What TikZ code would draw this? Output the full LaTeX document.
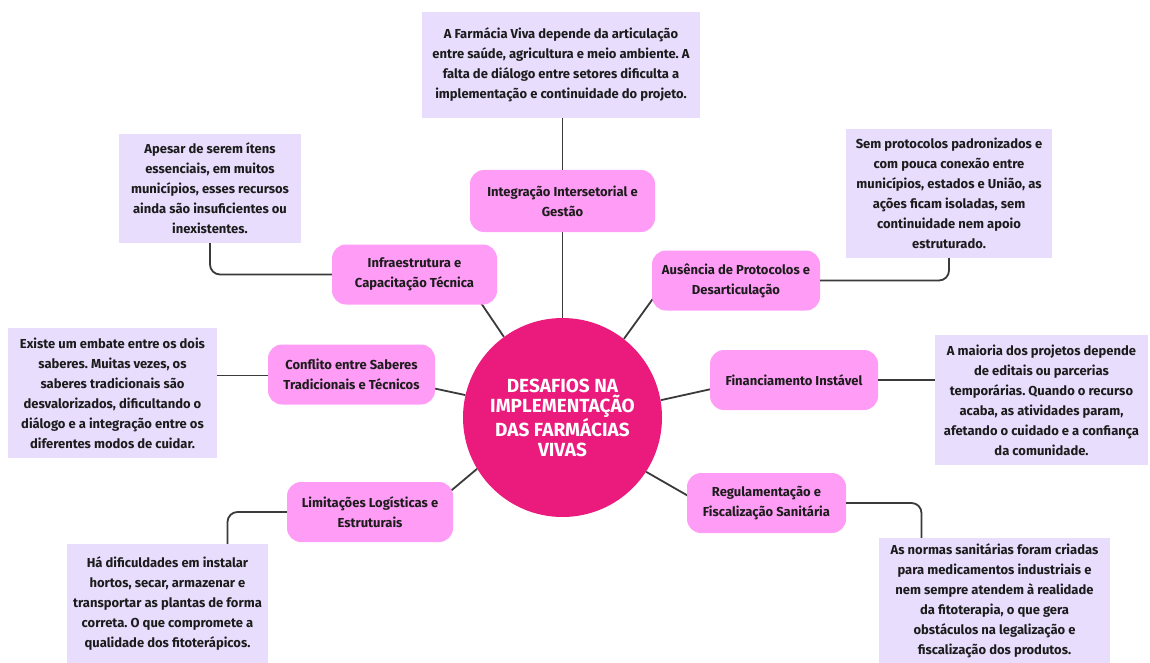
\documentclass[tikz,border=0pt]{standalone}
\usepackage{fontspec}
\setmainfont{Fira Sans}
\newfontfamily\hubfont{Fira Sans}
\frenchspacing
\usetikzlibrary{shapes.geometric, backgrounds}
\definecolor{hubpink}{HTML}{EA1B7D}
\definecolor{topicpink}{HTML}{FF9CF5}
\definecolor{notelilac}{HTML}{E8DDFD}
\definecolor{linkgray}{HTML}{3A3A3A}
\definecolor{inkblack}{HTML}{1C1C1C}
\tikzstyle{hub} = [circle, minimum size=199pt, inner sep=0pt, fill=hubpink, text=white, align=center, font=\hubfont\bfseries\fontsize{19}{20}\selectfont]
\tikzstyle{topic} = [rectangle, rounded corners=14pt, minimum width=166pt, minimum height=60pt, align=center, fill=topicpink, text=inkblack, font=\bfseries\fontsize{13}{20}\selectfont]
\tikzstyle{note} = [rectangle, inner sep=3pt, align=center, fill=notelilac, text=inkblack, font=\bfseries\fontsize{13}{20}\selectfont]
\tikzstyle{link} = [draw=linkgray, line width=1.8pt]
\tikzstyle{branch} = [link, rounded corners=10pt]

\begin{document}
\begin{tikzpicture}[x=1pt, y=-1pt]
    \useasboundingbox (0,0) rectangle (1150,663);

    \node (hub) [hub] at (562.5,417.5) {DESAFIOS NA\\IMPLEMENTAÇÃO\\DAS FARMÁCIAS\\VIVAS};

    \node (integ) [topic, minimum width=185pt, minimum height=62pt] at (562.5,201) {Integração Intersetorial e\\Gestão};
    \node (infra) [topic, minimum width=165pt] at (414.5,274.5) {Infraestrutura e\\Capacitação Técnica};
    \node (ausencia) [topic, minimum width=168pt] at (736,280.5) {Ausência de Protocolos e\\Desarticulação};
    \node (conflito) [topic, minimum width=167pt] at (351.5,374.5) {Conflito entre Saberes\\Tradicionais e Técnicos};
    \node (financ) [topic, minimum width=168pt] at (794,380) {Financiamento Instável};
    \node (limit) [topic] at (370,512) {Limitações Logísticas e\\Estruturais};
    \node (regul) [topic, minimum width=159pt] at (766.5,503) {Regulamentação e\\Fiscalização Sanitária};

    \node (notinteg) [note, minimum width=278pt, minimum height=106pt] at (561,65) {A Farmácia Viva depende da articulação\\entre saúde, agricultura e meio ambiente. A\\falta de diálogo entre setores dificulta a\\implementação e continuidade do projeto.};
    \node (notinfra) [note, minimum width=182pt, minimum height=109pt] at (210,188.5) {Apesar de serem ítens\\essenciais, em muitos\\municípios, esses recursos\\ainda são insuficientes ou\\inexistentes.};
    \node (notausen) [note, minimum width=206pt, minimum height=129pt] at (949,193.5) {Sem protocolos padronizados e\\com pouca conexão entre\\municípios, estados e União, as\\ações ficam isoladas, sem\\continuidade nem apoio\\estruturado.};
    \node (notconf) [note, minimum width=209pt, minimum height=130pt] at (112.5,393) {Existe um embate entre os dois\\saberes. Muitas vezes, os\\saberes tradicionais são\\desvalorizados, dificultando o\\diálogo e a integração entre os\\diferentes modos de cuidar.};
    \node (notfin) [note, minimum width=213pt, minimum height=130pt] at (1041.5,400) {A maioria dos projetos depende\\de editais ou parcerias\\temporárias. Quando o recurso\\acaba, as atividades param,\\afetando o cuidado e a confiança\\da comunidade.};
    \node (notlim) [note, minimum width=201pt, minimum height=119pt] at (167.5,603.5) {Há dificuldades em instalar\\hortos, secar, armazenar e\\transportar as plantas de forma\\correta. O que compromete a\\qualidade dos fitoterápicos.};
    \node (notreg) [note, minimum width=231pt, minimum height=125pt] at (994.5,600.5) {As normas sanitárias foram criadas\\para medicamentos industriais e\\nem sempre atendem à realidade\\da fitoterapia, o que gera\\obstáculos na legalização e\\fiscalização dos produtos.};

    % spokes from the circle, hidden under the nodes
    \begin{pgfonlayer}{background}
    \draw [link] (hub) -- (integ);
    \draw [link] (hub.126) -- ([shift={(58,16)}]infra.center);
    \draw [link] (hub.52) -- ([shift={(-75,7)}]ausencia.center);
    \draw [link] (hub.167) -- ([shift={(69,11)}]conflito.center);
    \draw [link] (hub.10) -- ([shift={(-69,6)}]financ.center);
    \draw [link] (hub.211) -- ([shift={(70,-12)}]limit.center);
    \draw [link] (hub.327) -- ([shift={(-66,0)}]regul.center);
    \end{pgfonlayer}

    % branches to the notes
    \draw [link] (integ.north) -- (integ.north |- notinteg.south);
    \draw [branch] (infra.west) -| (notinfra.south);
    \draw [branch] (ausencia.east) -| (notausen.south);
    \draw [link] ([yshift=-1pt]conflito.west) -- ([yshift=-1pt]conflito.west -| notconf.east);
    \draw [link] (financ.east) -- (financ.east -| notfin.west);
    \draw [branch] (limit.west) -| ([xshift=60pt]notlim.north);
    \draw [branch] (regul.east) -| ([xshift=-73pt]notreg.north);

\end{tikzpicture}
\end{document}
